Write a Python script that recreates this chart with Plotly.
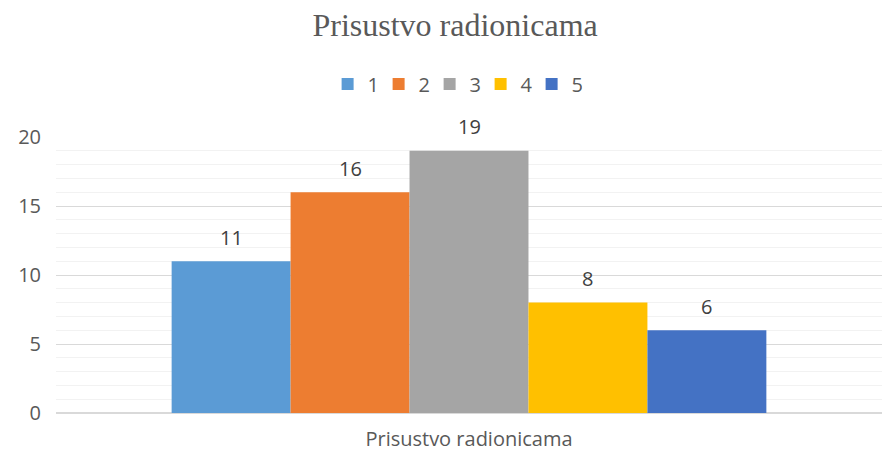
import plotly.graph_objects as go

category = ["Prisustvo radionicama"]
series_names = ["1", "2", "3", "4", "5"]
series_values = [11, 16, 19, 8, 6]
colors = ["#5B9BD5", "#ED7D31", "#A5A5A5", "#FFC000", "#4472C4"]
title_text = "Prisustvo radionicama"

W, H = 882, 455
ML, MR, MT, MB = 56, 0, 137, 42
BARGAP = 0.28
n = len(series_names)
bar_px = (W - ML - MR) * (1 - BARGAP) / n

fig = go.Figure()
for i, (name, val, col) in enumerate(zip(series_names, series_values, colors)):
    fig.add_trace(go.Bar(
        x=category, y=[val], name=name, marker_color=col, marker_line_width=0,
    ))
    fig.add_annotation(
        x=category[0], y=val, text=str(val), showarrow=False,
        xshift=(i - (n - 1) / 2) * bar_px, yshift=24, yanchor="middle",
        font=dict(family="Open Sans", size=20, color="#404040"),
    )

fig.update_layout(
    width=W, height=H,
    paper_bgcolor="white", plot_bgcolor="white",
    margin=dict(l=ML, r=MR, t=MT, b=MB),
    barmode="group", bargap=BARGAP, bargroupgap=0,
    title=dict(text=title_text, x=0.516, xanchor="center", xref="container",
               y=1 - 25 / H, yanchor="middle", yref="container",
               font=dict(family="Liberation Serif", size=32, color="#595959")),
    legend=dict(orientation="h", x=0.516, xanchor="center", xref="container",
                y=1 - 84 / H, yanchor="middle", yref="container",
                font=dict(family="Open Sans", size=20, color="#595959"),
                entrywidth=6, entrywidthmode="pixels", tracegroupgap=0),
    showlegend=True,
)
fig.update_xaxes(showgrid=False, showline=False, ticks="", ticklabelstandoff=12,
                 tickfont=dict(family="Open Sans", size=20, color="#595959"))
fig.update_yaxes(range=[0, 20], dtick=5, showgrid=True, gridcolor="#D9D9D9", gridwidth=1,
                 zeroline=True, zerolinecolor="#D9D9D9", zerolinewidth=2,
                 minor=dict(dtick=1, showgrid=True, gridcolor="#F2F2F2", gridwidth=1),
                 showline=False, ticks="", ticklabelstandoff=14,
                 tickfont=dict(family="Open Sans", size=20, color="#595959"))

fig.write_html("out.html", config={"displayModeBar": False},
               post_script="document.body.style.margin='0';")
